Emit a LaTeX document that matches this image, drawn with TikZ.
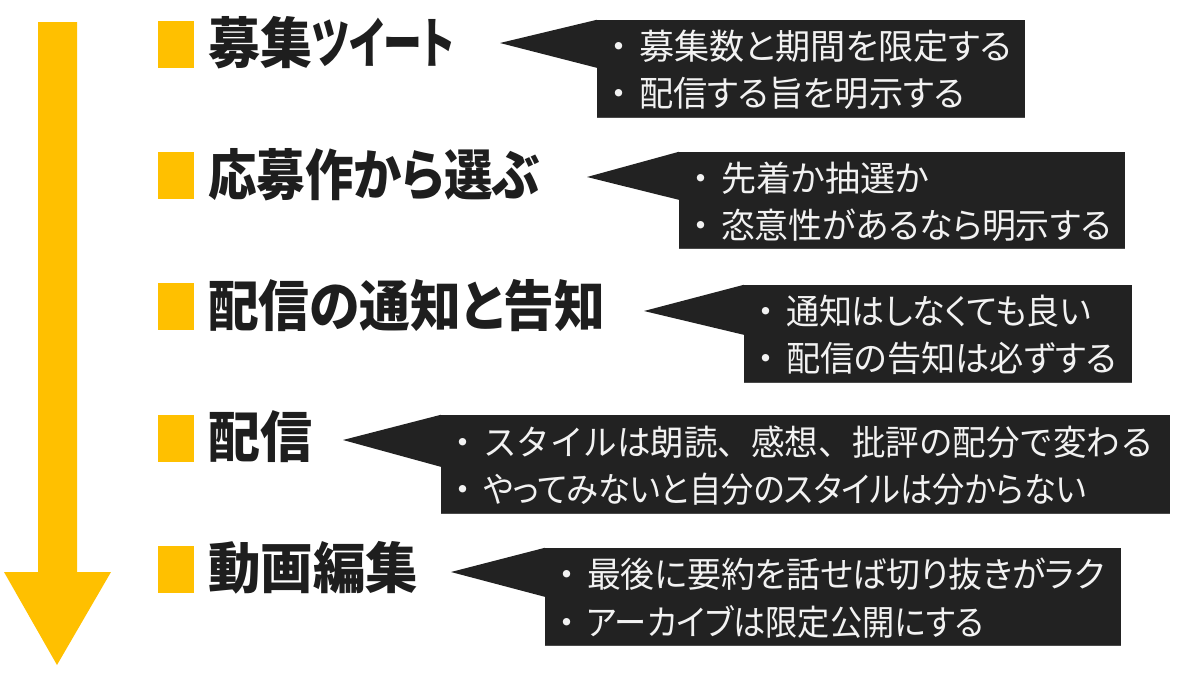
\documentclass[tikz,border=0pt]{standalone}
\usepackage{fontspec}
\usepackage{graphicx}
\setmainfont{Noto Sans CJK JP}
\newfontfamily\jpprop[RawFeature=+palt]{Noto Sans CJK JP}
\usetikzlibrary{calc}
\definecolor{flowyellow}{HTML}{FFC000}
\definecolor{boxdark}{HTML}{222222}
\definecolor{boxedge}{HTML}{4A4A4A}
\definecolor{boxtext}{HTML}{F2F2F2}
\definecolor{titleink}{HTML}{1E1E1E}
\newcommand{\bulletcell}{\hbox to 40pt{\hss{\rmfamily ・}\hss}}
\newcommand{\fitw}[2]{\resizebox{#1pt}{\height}{#2}}
\tikzset{
  marker/.style={fill=flowyellow, draw=none, minimum width=36pt, minimum height=47pt, inner sep=0pt},
  titletext/.style={anchor=west, inner sep=0pt, text=titleink, font=\jpprop\fontsize{55}{60}\selectfont\bfseries},
  callbox/.style={fill=boxdark, draw=none, inner sep=0pt},
  calltext/.style={anchor=west, inner sep=0pt, text=boxtext, font=\jpprop\fontsize{35}{40}\selectfont},
  pointer/.style={fill=boxdark, draw=none}
}
\begin{document}
\begin{tikzpicture}[x=1pt,y=-1pt]
\useasboundingbox (0,0) rectangle (1200,675);
\fill[white] (0,0) rectangle (1200,675);
% flow arrow
\fill[flowyellow] (38,22) -- (77,22) -- (77,572) -- (111,572) -- (57,665) -- (4,572) -- (38,572) -- cycle;

% titles
\node[marker] (m1) at (176,44) {};
\node[titletext] (t1) at (208,43) {\fitw{104}{募集}\fitw{142}{ツイート}};
\node[marker] (m2) at (176,175.5) {};
\node[titletext] (t2) at (208,175) {\fitw{332}{応募作から選ぶ}};
\node[marker] (m3) at (176,306.5) {};
\node[titletext] (t3) at (208,306) {\fitw{397}{配信の通知と告知}};
\node[marker] (m4) at (176,438) {};
\node[titletext] (t4) at (208,437) {\fitw{104}{配信}};
\node[marker] (m5) at (176,569) {};
\node[titletext] (t5) at (208,568) {\fitw{210}{動画編集}};

% callout boxes
\node[callbox, minimum width=428pt, minimum height=97pt] (b1) at (811,68.5) {};
\node[callbox, minimum width=446pt, minimum height=96pt] (b2) at (902,200) {};
\node[callbox, minimum width=388pt, minimum height=97pt] (b3) at (938,333.5) {};
\node[callbox, minimum width=729pt, minimum height=98pt] (b4) at (805.5,464) {};
\node[callbox, minimum width=576pt, minimum height=97pt] (b5) at (833,596.5) {};
\foreach \b in {b1,b2,b3,b4,b5}
  \draw[boxedge, line width=1.2pt] (\b.south west) -- (\b.south east);

% pointer tips
\coordinate (p1) at (500,43);
\coordinate (p2) at (587,177);
\coordinate (p3) at (644,311);
\coordinate (p4) at (343,440);
\coordinate (p5) at (451,572);
\fill[pointer] (b1.north west) -- (p1) -- ($(b1.north west)+(0,48)$) -- cycle;
\fill[pointer] (b2.north west) -- (p2) -- ($(b2.north west)+(0,48)$) -- cycle;
\fill[pointer] (b3.north west) -- (p3) -- ($(b3.north west)+(0,50)$) -- cycle;
\fill[pointer] (b4.north west) -- (p4) -- ($(b4.north west)+(0,52)$) -- cycle;
\fill[pointer] (b5.north west) -- (p5) -- ($(b5.north west)+(0,49)$) -- cycle;

% callout texts
\node[calltext] (c1a) at ($(b1.west)+(2,-22)$) {\bulletcell\fitw{373}{募集数と期間を限定する}};
\node[calltext] (c1b) at ($(b1.west)+(2,25)$) {\bulletcell\fitw{326}{配信する旨を明示する}};
\node[calltext] (c2a) at ($(b2.west)+(2,-22)$) {\bulletcell\fitw{208}{先着か抽選か}};
\node[calltext] (c2b) at ($(b2.west)+(2,25)$) {\bulletcell\fitw{390}{恣意性があるなら明示する}};
\node[calltext] (c3a) at ($(b3.west)+(2,-22)$) {\bulletcell\fitw{305}{通知はしなくても良い}};
\node[calltext] (c3b) at ($(b3.west)+(2,25)$) {\bulletcell\fitw{331}{配信の告知は必ずする}};
\node[calltext] (c4a) at ($(b4.west)+(2,-22)$) {\bulletcell\fitw{671}{\rmfamily スタイルは朗読、感想、批評の配分で変わる}};
\node[calltext] (c4b) at ($(b4.west)+(2,25)$) {\bulletcell\fitw{603}{やってみないと自分のスタイルは分からない}};
\node[calltext] (c5a) at ($(b5.west)+(2,-22)$) {\bulletcell\fitw{518}{最後に要約を話せば切り抜きがラク}};
\node[calltext] (c5b) at ($(b5.west)+(2,25)$) {\bulletcell\fitw{397}{アーカイブは限定公開にする}};
\end{tikzpicture}
\end{document}
